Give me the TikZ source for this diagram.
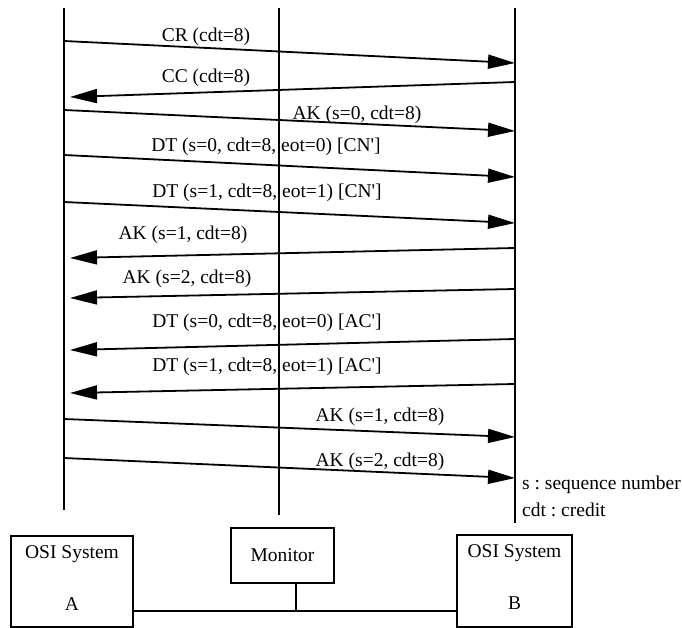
\documentclass[tikz,border=0pt]{standalone}
\usepackage{fontspec}
\setmainfont{Liberation Serif}
\usepackage{tikz}
\usetikzlibrary{arrows.meta, positioning, calc}
\frenchspacing

\begin{document}
\begin{tikzpicture}[x=1pt, y=-1pt,
    ligne/.style={line width=1.5pt},
    message/.style={line width=1.8pt, -{Triangle[length=27pt, width=14pt]}},
    etiquette/.style={font=\fontsize{19.5}{22}\selectfont, inner sep=0pt},
    boite/.style={draw, line width=1.4pt, inner sep=0pt}]
    \useasboundingbox (0,0) rectangle (682,628);
    % lignes de vie
    \coordinate (hautA) at (64,8);
    \coordinate (hautM) at (279,8);
    \coordinate (hautB) at (515,8);
    \draw[ligne] (hautA) -- ++(0,502);
    \draw[ligne] (hautM) -- ++(0,507);
    \draw[ligne] (hautB) -- ++(0,515);
    % messages
    \foreach \xa/\ya/\xb/\yb/\lx/\ly/\txt [count=\i] in {
      64/41/515/63/206/37/{CR (cdt=8)},
      515/82/70/97/206/78/{CC (cdt=8)},
      64/110/515/131/357/115/{AK (s=0, cdt=8)},
      64/155/515/177/266/147/{DT (s=0, cdt=8, eot=0) [CN\textquotesingle]},
      64/202/515/223/267/193/{DT (s=1, cdt=8, eot=1) [CN\textquotesingle]},
      515/248/70/258/183/235/{AK (s=1, cdt=8)},
      515/289/70/298/187/279/{AK (s=2, cdt=8)},
      515/339/70/350/267/323/{DT (s=0, cdt=8, eot=0) [AC\textquotesingle]},
      515/384/70/393/267/367/{DT (s=1, cdt=8, eot=1) [AC\textquotesingle]},
      64/419/515/437/380/417/{AK (s=1, cdt=8)},
      64/458/515/478/380/462/{AK (s=2, cdt=8)}} {
      \coordinate (dep\i) at (\xa,\ya);
      \coordinate (arr\i) at (\xb,\yb);
      \draw[message] (dep\i) -- (arr\i);
      \node[etiquette] (msg\i) at (\lx,\ly) {\txt};
    }
    \node[etiquette, anchor=west] (leg1) at (522,485) {s : sequence number};
    \node[etiquette, anchor=west] (leg2) at (522,510) {cdt : credit};
    % systemes
    \node[boite, minimum width=122pt, minimum height=91pt] (sysA) at (72,581.5) {};
    \node[etiquette] at ($(sysA.north)+(0,19)$) {OSI System};
    \node[etiquette] at ($(sysA.north)+(0,69)$) {A};
    \node[boite, minimum width=103pt, minimum height=55pt, font=\fontsize{19.5}{22}\selectfont] (moniteur) at (282.5,555.5) {Monitor};
    \node[boite, minimum width=115pt, minimum height=92pt] (sysB) at (514.5,581) {};
    \node[etiquette] at ($(sysB.north)+(0,19)$) {OSI System};
    \node[etiquette] at ($(sysB.north)+(0,69)$) {B};
    \coordinate (bus) at (296,611);
    \draw[ligne] (sysA.east |- bus) -- (sysB.west |- bus);
    \draw[ligne] (bus |- moniteur.south) -- (bus);
  \end{tikzpicture}
\end{document}
